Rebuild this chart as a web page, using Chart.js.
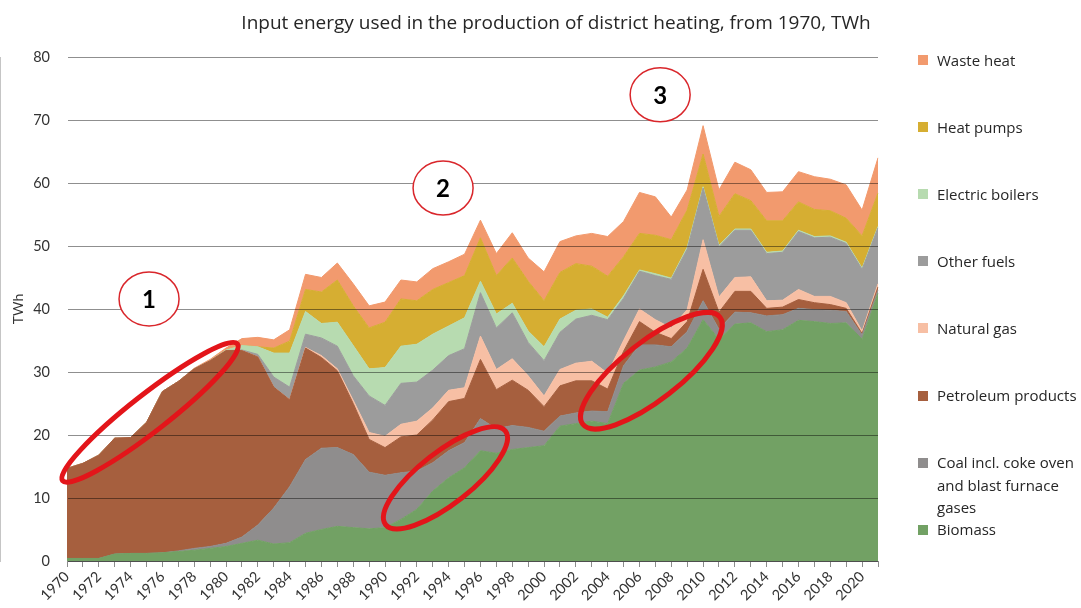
<!DOCTYPE html>
<html>
<head>
<meta charset="utf-8">
<title>District heating input energy</title>
<script src="https://cdn.jsdelivr.net/npm/chart.js@4.4.1/dist/chart.umd.min.js"></script>
<style>
  html, body { margin: 0; padding: 0; background: #ffffff; }
  #wrap { position: relative; width: 1081px; height: 608px; overflow: hidden;
          font-family: "Open Sans", Lato, sans-serif; color: #262626; }
  #chart { position: absolute; left: 0; top: 0; }
  #title { position: absolute; left: 0; top: 9px; width: 1112px; text-align: center;
           font-size: 19px; line-height: 26px; color: #262626; white-space: nowrap; }
  .lg-sw { position: absolute; width: 10px; height: 10px; }
  .lg-tx { position: absolute; width: 200px; font-size: 15px; line-height: 22.5px; white-space: pre; color: #262626; }
</style>
</head>
<body>
<div id="wrap">
  <canvas id="chart" width="1081" height="608"></canvas>
  <div id="title">Input energy used in the production of district heating, from 1970, TWh</div>
  <div id="legend"></div>
</div>
<script>
// Years on the category axis
const years = [
  '1970','1971','1972','1973','1974','1975','1976','1977','1978','1979',
  '1980','1981','1982','1983','1984','1985','1986','1987','1988','1989',
  '1990','1991','1992','1993','1994','1995','1996','1997','1998','1999',
  '2000','2001','2002','2003','2004','2005','2006','2007','2008','2009',
  '2010','2011','2012','2013','2014','2015','2016','2017','2018','2019',
  '2020','2021'
];

// Input energy per source, TWh (stacked bottom to top)
const biomass = [
  0.4, 0.4, 0.4, 1.1, 1.2, 1.2, 1.3, 1.5, 1.7, 2.0,
  2.3, 2.8, 3.3, 2.7, 2.9, 4.4, 5.0, 5.5, 5.3, 5.1,
  5.3, 6.6, 8.2, 11.1, 13.2, 14.8, 17.5, 17.1, 17.7, 18.0,
  18.3, 21.4, 21.8, 22.2, 21.8, 28.2, 30.3, 30.8, 31.6, 33.8,
  38.3, 35.2, 37.6, 37.8, 36.4, 36.7, 38.2, 38.0, 37.7, 37.8,
  35.2, 42.5
];
const coal = [
  0, 0, 0, 0, 0, 0, 0, 0.1, 0.3, 0.3,
  0.5, 1.0, 2.4, 5.7, 8.9, 11.7, 12.9, 12.5, 11.6, 9.0,
  8.3, 7.4, 6.1, 4.5, 4.3, 4.0, 5.1, 3.9, 3.8, 3.2,
  2.3, 1.6, 1.7, 1.6, 1.9, 2.8, 4.0, 3.5, 2.4, 2.6,
  3.0, 1.6, 1.9, 1.6, 2.5, 2.4, 1.9, 1.9, 2.1, 1.8,
  0.7, 0.5
];
const petroleum = [
  14.3, 15.1, 16.4, 18.4, 18.4, 20.8, 25.6, 26.9, 28.5, 29.5,
  30.6, 29.6, 26.7, 19.2, 13.8, 17.7, 14.4, 12.2, 8.1, 5.2,
  4.4, 5.7, 5.7, 6.8, 7.8, 7.0, 9.4, 6.2, 7.2, 5.9,
  3.9, 4.8, 5.1, 4.8, 3.6, 2.3, 3.7, 2.0, 1.3, 1.6,
  5.0, 2.7, 3.3, 3.4, 1.2, 1.2, 1.4, 1.1, 0.9, 0.5,
  0.2, 0.5
];
const naturalGas = [
  0, 0, 0, 0, 0, 0, 0, 0, 0, 0,
  0, 0, 0, 0, 0, 0.1, 0.3, 0.3, 0.5, 1.1,
  1.8, 2.0, 2.2, 1.9, 1.8, 1.7, 3.7, 3.2, 3.4, 2.3,
  1.7, 2.6, 2.8, 3.1, 2.5, 1.7, 2.0, 2.0, 1.7, 1.9,
  4.7, 2.4, 2.2, 2.3, 1.2, 1.1, 1.6, 1.0, 1.3, 0.9,
  0.4, 0.5
];
const otherFuels = [
  0, 0, 0, 0, 0, 0, 0, 0, 0, 0,
  0, 0.1, 0.4, 1.6, 2.0, 2.1, 2.8, 3.6, 3.9, 5.8,
  4.9, 6.5, 6.2, 6.0, 5.5, 6.2, 6.9, 6.6, 7.3, 5.3,
  5.6, 5.9, 7.0, 7.3, 8.5, 6.7, 6.0, 7.0, 7.7, 9.6,
  8.2, 8.0, 7.5, 7.4, 7.5, 7.6, 9.2, 9.3, 9.4, 9.4,
  9.8, 8.9
];
const electricBoilers = [
  0, 0, 0, 0, 0, 0, 0, 0, 0, 0,
  0.1, 0.7, 1.2, 3.8, 5.4, 3.6, 2.3, 3.8, 4.8, 4.3,
  6.0, 5.9, 6.0, 5.7, 4.7, 4.9, 1.8, 2.2, 1.5, 1.8,
  2.2, 2.1, 1.4, 1.0, 0.4, 0.4, 0.2, 0.3, 0.2, 0.3,
  0.2, 0.2, 0.2, 0.2, 0.2, 0.2, 0.2, 0.2, 0.2, 0.2,
  0.2, 0.2
];
const heatPumps = [
  0, 0, 0, 0, 0, 0, 0, 0, 0, 0,
  0, 0, 0, 0.8, 1.9, 3.5, 5.0, 6.7, 6.3, 6.5,
  7.2, 7.5, 6.9, 7.1, 6.9, 6.7, 6.9, 6.1, 7.2, 7.9,
  7.3, 7.4, 7.4, 6.8, 6.5, 6.2, 5.8, 6.1, 6.1, 5.9,
  5.2, 4.6, 5.6, 4.5, 5.0, 4.8, 4.5, 4.3, 4.0, 3.8,
  5.1, 5.3
];
const wasteHeat = [
  0, 0, 0, 0, 0, 0, 0, 0, 0.1, 0.2,
  0.3, 1.1, 1.5, 1.3, 1.8, 2.4, 2.3, 2.7, 3.5, 3.5,
  3.2, 3.0, 3.0, 3.3, 3.3, 3.4, 2.8, 3.5, 4.0, 3.7,
  4.6, 4.9, 4.4, 5.2, 6.3, 5.6, 6.5, 6.1, 3.6, 3.2,
  4.5, 4.2, 5.0, 4.9, 4.5, 4.6, 4.8, 5.2, 5.0, 5.3,
  4.1, 5.6
];

// Y axis range
const yTicks = { min: 0, max: 80, step: 10 };

// Series definitions, bottom of the stack first
const series = [
  { label: 'Biomass', data: biomass, color: '#72a164' },
  { label: 'Coal incl. coke oven\nand blast furnace\ngases', data: coal, color: '#8f8d8d' },
  { label: 'Petroleum products', data: petroleum, color: '#a65f3e' },
  { label: 'Natural gas', data: naturalGas, color: '#f7bfa4' },
  { label: 'Other fuels', data: otherFuels, color: '#9c9c9c' },
  { label: 'Electric boilers', data: electricBoilers, color: '#b7dbb0' },
  { label: 'Heat pumps', data: heatPumps, color: '#d6ae32' },
  { label: 'Waste heat', data: wasteHeat, color: '#f29a6e' }
];

// Highlight ovals and numbered callouts, anchored in data space
const highlightOvals = [
  { year: 1975.22, value: 23.6, rx: 111, ry: 18.5, angle: -38 },
  { year: 1993.80, value: 13.2, rx: 76, ry: 26, angle: -38 },
  { year: 2006.75, value: 30.2, rx: 87, ry: 29, angle: -38 }
];
const callouts = [
  { text: '1', year: 1975.16, value: 41.6 },
  { text: '2', year: 1993.65, value: 59.2 },
  { text: '3', year: 2007.30, value: 74.0 }
];

const annotationPlugin = {
  id: 'highlights',
  afterDraw(chart) {
    const ctx = chart.ctx;
    const xs = chart.scales.x, ys = chart.scales.y;
    const px = yr => xs.getPixelForValue(yr - Number(years[0]));
    ctx.save();
    highlightOvals.forEach(o => {
      ctx.beginPath();
      ctx.ellipse(px(o.year), ys.getPixelForValue(o.value), o.rx, o.ry, o.angle * Math.PI / 180, 0, Math.PI * 2);
      ctx.strokeStyle = '#e3151a';
      ctx.lineWidth = 5;
      ctx.stroke();
    });
    callouts.forEach(c => {
      const cx = px(c.year), cy = ys.getPixelForValue(c.value);
      ctx.beginPath();
      ctx.ellipse(cx, cy, 30, 27, 0, 0, Math.PI * 2);
      ctx.fillStyle = '#ffffff';
      ctx.fill();
      ctx.strokeStyle = '#d9262b';
      ctx.lineWidth = 1.5;
      ctx.stroke();
      ctx.fillStyle = '#000000';
      ctx.font = 'bold 24px Lato, "Noto Sans", sans-serif';
      ctx.textAlign = 'center';
      ctx.textBaseline = 'middle';
      ctx.fillText(c.text, cx, cy + 1);
    });
    ctx.restore();
  }
};

Chart.defaults.font.family = 'Lato, "Noto Sans", sans-serif';
Chart.defaults.color = '#333333';

const chart = new Chart(document.getElementById('chart'), {
  type: 'line',
  data: {
    labels: years,
    datasets: series.map((s, i) => ({
      label: s.label,
      data: s.data,
      backgroundColor: s.color,
      borderColor: s.color,
      borderWidth: 1,
      pointRadius: 0,
      tension: 0,
      fill: i === 0 ? 'origin' : '-1'
    }))
  },
  options: {
    responsive: false,
    animation: false,
    layout: { padding: { left: 0, right: 203, top: 57, bottom: 0 } },
    plugins: {
      legend: { display: false },
      tooltip: { enabled: false },
      title: { display: false }
    },
    scales: {
      x: {
        offset: false,
        grid: { drawOnChartArea: false, drawTicks: true, tickLength: 6, color: '#8c8c8c' },
        border: { display: true, color: '#8c8c8c' },
        ticks: {
          autoSkip: false, minRotation: 45, maxRotation: 45, padding: 1,
          font: { size: 14.5 }, color: '#333333',
          callback: (v, i) => (i % 2 === 0 ? years[i] : '')
        },
        afterFit: scale => { scale.height = 47; }
      },
      y: {
        stacked: true,
        min: yTicks.min, max: yTicks.max,
        grid: { color: 'rgba(0,0,0,0.44)', drawTicks: false, z: 1 },
        border: { display: true, color: '#8c8c8c' },
        ticks: { stepSize: yTicks.step, padding: 17, font: { size: 14.5 }, color: '#333333' },
        title: { display: true, text: 'TWh', font: { size: 14 }, color: '#333333', padding: { top: 10, bottom: 0 } },
        afterFit: scale => { scale.width = 67; }
      }
    }
  },
  plugins: [annotationPlugin]
});

// Legend on the right, top item = top of the stack
const legend = document.getElementById('legend');
series.slice().reverse().forEach((s, i) => {
  const cy = 60 + i * 67.1;
  const sw = document.createElement('div');
  sw.className = 'lg-sw';
  sw.style.left = '918px';
  sw.style.top = (cy - 5) + 'px';
  sw.style.background = s.color;
  legend.appendChild(sw);
  const tx = document.createElement('div');
  tx.className = 'lg-tx';
  tx.style.left = '937px';
  tx.style.top = (cy - 11.25) + 'px';
  tx.textContent = s.label;
  legend.appendChild(tx);
});
</script>
</body>
</html>
